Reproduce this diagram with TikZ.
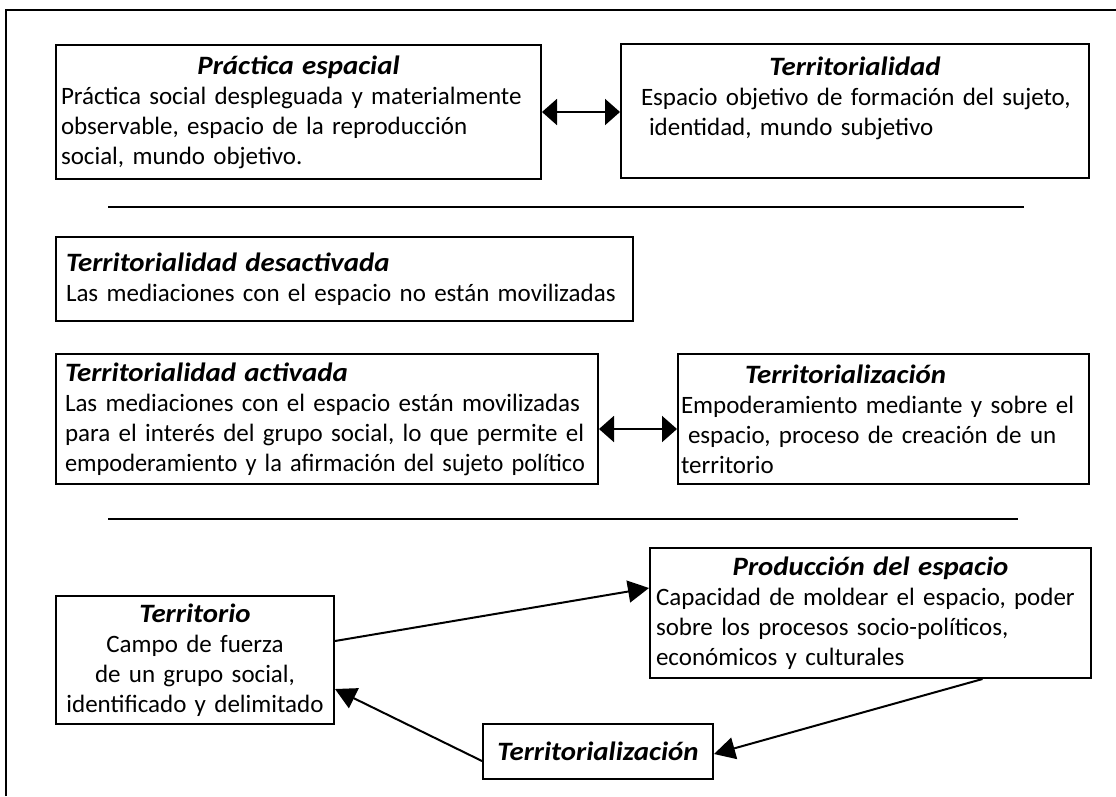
\documentclass[tikz,border=0pt]{standalone}
\usepackage{fontspec}
\setmainfont{Carlito}
\newfontfamily\titlefont{Carlito}[FakeStretch=1.09]
\usetikzlibrary{arrows.meta,calc}
\newcommand\mytitle[1]{{\titlefont\bfseries\itshape\fontsize{26.5}{30}\selectfont #1}}
\newcommand\myline[1]{\makebox[\hsize][l]{#1}}
\begin{document}
\begin{tikzpicture}[x=1pt,y=-1pt,
  bx/.style={draw, line width=2pt, anchor=north west, inner ysep=0pt, inner xsep=6pt,
             align=left, font=\fontsize{25}{30}\selectfont},
  sep/.style={line width=2pt},
  frm/.style={line width=2.6pt},
  dar/.style={{Triangle[length=15pt,width=26pt]}-{Triangle[length=15pt,width=26pt]}, line width=2pt},
  sar/.style={-{Triangle[length=21pt,width=22pt]}, line width=2pt}]
\useasboundingbox (0,0) rectangle (1116,796);
% frame
\coordinate (f1) at (6,796);
\coordinate (f2) at (6,10);
\coordinate (f3) at (1116,10);
\draw[frm] (f1) -- (f2) -- (f3);
% top row
\node[bx, inner xsep=5pt, text width=475pt, minimum height=134pt] (b1) at (55,44)
  {\makebox[\hsize]{\mytitle{Práctica espacial}}\\
   \myline{Práctica social despleguada y materialmente}\\
   \myline{observable, espacio de la reproducción}\\
   \myline{social, mundo objetivo.}};
\node[bx, inner xsep=5pt, text width=458pt, minimum height=134pt] (b2) at (620,43)
  {\makebox[\hsize]{\mytitle{Territorialidad}}\\
   \myline{\hspace*{15pt}Espacio objetivo de formación del sujeto,}\\
   \myline{\hspace*{23pt}identidad, mundo subjetivo}\\
   \mbox{}};
\draw[dar] (b1.east) -- (b1.east -| b2.west);
% separator 1
\coordinate (s1a) at (108,207);
\coordinate (s1b) at (1024,207);
\draw[sep] (s1a) -- (s1b);
% middle
\node[bx, inner xsep=10pt, text width=557pt, minimum height=84pt] (b3) at (55,236)
  {\mytitle{Territorialidad desactivada}\\
   \myline{Las mediaciones con el espacio no están movilizadas}};
\node[bx, inner xsep=9pt, text width=524pt, minimum height=130pt] (b4) at (55,353)
  {\mytitle{Territorialidad activada}\\
   \myline{Las mediaciones con el espacio están movilizadas}\\
   \myline{para el interés del grupo social, lo que permite el}\\
   \myline{\scalebox{0.975}[1]{empoderamiento y la afirmación del sujeto político}}};
\node[bx, inner xsep=3pt, text width=405pt, minimum height=130pt] (b5) at (677,353)
  {\hspace*{64pt}\mytitle{Territorialización}\\
   \myline{Empoderamiento mediante y sobre el}\\
   \myline{\hspace*{7pt}espacio, proceso de creación de un}\\
   territorio};
\draw[dar] ([yshift=-10pt]b4.east) -- ([yshift=-10pt]b4.east -| b5.west);
% separator 2
\coordinate (s2a) at (108,519);
\coordinate (s2b) at (1018,519);
\draw[sep] (s2a) -- (s2b);
% bottom
\node[bx, inner xsep=6pt, text width=429pt, minimum height=130pt] (pe) at (649,547)
  {\makebox[\hsize]{\mytitle{Producción del espacio}}\\
   \myline{Capacidad de moldear el espacio, poder}\\
   \myline{sobre los procesos socio-políticos,}\\
   \myline{económicos y culturales}};
\node[bx, align=center, inner xsep=4pt, text width=270pt, minimum height=128pt] (te) at (55,595)
  {\mytitle{Territorio}\\
   Campo de fuerza\\
   de un grupo social,\\
   identificado y delimitado};
\node[bx, align=center, inner xsep=4pt, text width=222pt, minimum height=55pt] (tz) at (482,723)
  {\mytitle{Territorialización}};
\draw[sar] ([yshift=19pt]te.east) -- ([yshift=25pt]pe.west);
\draw[sar] ([xshift=112pt]pe.south) -- ([yshift=-2.5pt]tz.east);
\draw[sar] ([yshift=-9.5pt]tz.west) -- ([yshift=-29pt]te.east);
\end{tikzpicture}
\end{document}
